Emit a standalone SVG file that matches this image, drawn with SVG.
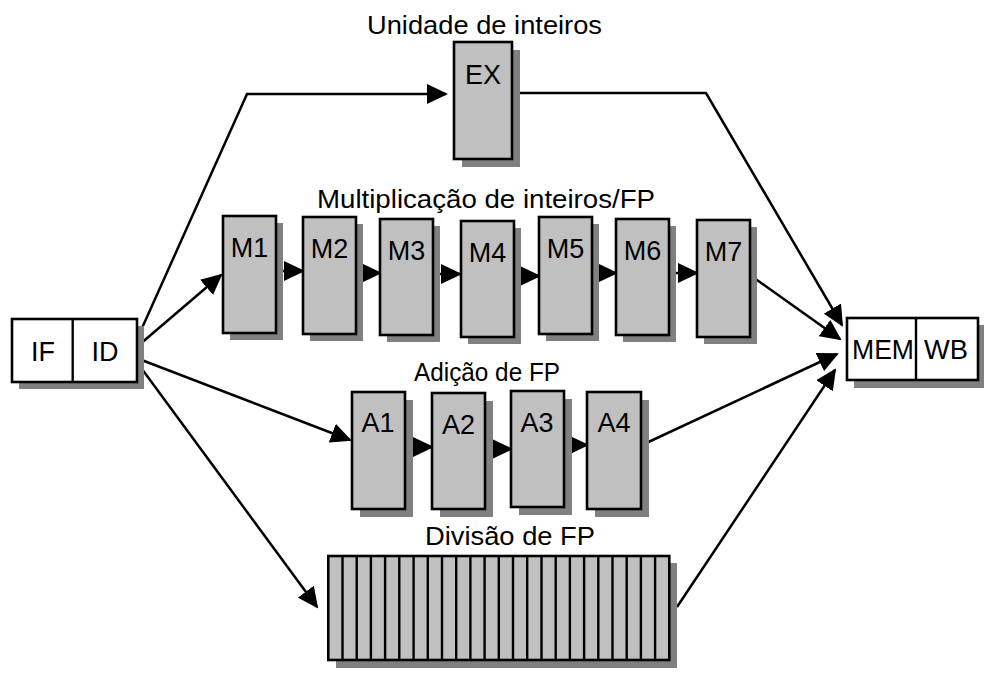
<svg xmlns="http://www.w3.org/2000/svg" width="984" height="675" viewBox="0 0 984 675">
<style>
.sh{fill:#808080}
.st{fill:#c0c0c0;stroke:#000;stroke-width:2.6}
.wb{fill:#fff;stroke:#000;stroke-width:2.6}
.lb{font-family:"Liberation Sans",Arial,sans-serif;font-size:27px;fill:#000;text-anchor:middle}
.tt{font-family:"Liberation Sans",Arial,sans-serif;font-size:26px;fill:#000}
.cn{fill:none;stroke:#000;stroke-width:2.5}
.dv{stroke:#000;stroke-width:2.4}
</style>
<defs>
<marker id="ah" markerUnits="userSpaceOnUse" markerWidth="21" markerHeight="20" refX="19" refY="10" orient="auto" viewBox="0 0 21 20">
<path d="M0,0 L21,10 L0,20 z" fill="#000"/>
</marker>
</defs>
<rect width="984" height="675" fill="#fff"/>

<text class="tt" x="367" y="34" textLength="235" lengthAdjust="spacingAndGlyphs">Unidade de inteiros</text>
<text class="tt" x="317" y="208" textLength="338" lengthAdjust="spacingAndGlyphs">Multiplicação de inteiros/FP</text>
<text class="tt" x="414" y="381" textLength="146" lengthAdjust="spacingAndGlyphs">Adição de FP</text>
<text class="tt" x="425" y="545" textLength="170" lengthAdjust="spacingAndGlyphs">Divisão de FP</text>

<g id="connectors">
<polyline class="cn" points="138,337 247,94 446,94" marker-end="url(#ah)"/>
<polyline class="cn" points="512,93 706,93 842,325" marker-end="url(#ah)"/>
<line class="cn" x1="139" y1="345" x2="221" y2="275" marker-end="url(#ah)"/>
<line class="cn" x1="139" y1="359" x2="350" y2="440" marker-end="url(#ah)"/>
<line class="cn" x1="139" y1="365" x2="317" y2="607" marker-end="url(#ah)"/>
<line class="cn" x1="276" y1="271" x2="303" y2="271" marker-end="url(#ah)"/>
<line class="cn" x1="356" y1="273" x2="380" y2="273" marker-end="url(#ah)"/>
<line class="cn" x1="433" y1="274" x2="460" y2="274" marker-end="url(#ah)"/>
<line class="cn" x1="514" y1="276" x2="539" y2="276" marker-end="url(#ah)"/>
<line class="cn" x1="592" y1="273" x2="616" y2="273" marker-end="url(#ah)"/>
<line class="cn" x1="669" y1="273" x2="697" y2="273" marker-end="url(#ah)"/>
<line class="cn" x1="750" y1="275" x2="840" y2="339" marker-end="url(#ah)"/>
<line class="cn" x1="404" y1="447" x2="432" y2="447" marker-end="url(#ah)"/>
<line class="cn" x1="485" y1="449" x2="511" y2="449" marker-end="url(#ah)"/>
<line class="cn" x1="563" y1="445" x2="587" y2="445" marker-end="url(#ah)"/>
<line class="cn" x1="642" y1="445" x2="837" y2="354" marker-end="url(#ah)"/>
<line class="cn" x1="677" y1="607" x2="835" y2="370" marker-end="url(#ah)"/>
</g>

<g id="IF_ID">
<rect class="sh" x="19" y="326" width="125" height="63"/>
<rect class="wb" x="12" y="319" width="125" height="63"/>
<line class="dv" x1="72.7" y1="319" x2="72.7" y2="382"/>
<text class="lb" x="43" y="361">IF</text>
<text class="lb" x="105" y="361">ID</text>
</g>

<g id="EX">
<rect class="sh" x="462" y="50" width="58" height="117"/>
<rect class="st" x="454" y="42" width="58" height="117"/>
<text class="lb" x="483" y="84">EX</text>
</g>

<g id="M1"><rect class="sh" x="230" y="223" width="53" height="117"/><rect class="st" x="223" y="216" width="53" height="117"/><text class="lb" x="249.5" y="257">M1</text></g>
<g id="M2"><rect class="sh" x="310" y="224" width="53" height="117"/><rect class="st" x="303" y="217" width="53" height="117"/><text class="lb" x="329.5" y="258">M2</text></g>
<g id="M3"><rect class="sh" x="387" y="226" width="53" height="116"/><rect class="st" x="380" y="219" width="53" height="116"/><text class="lb" x="406.5" y="260">M3</text></g>
<g id="M4"><rect class="sh" x="468" y="228" width="53" height="116"/><rect class="st" x="461" y="221" width="53" height="116"/><text class="lb" x="487.5" y="262">M4</text></g>
<g id="M5"><rect class="sh" x="546" y="224" width="53" height="117"/><rect class="st" x="539" y="217" width="53" height="117"/><text class="lb" x="565.5" y="258">M5</text></g>
<g id="M6"><rect class="sh" x="623" y="226" width="53" height="116"/><rect class="st" x="616" y="219" width="53" height="116"/><text class="lb" x="642.5" y="260">M6</text></g>
<g id="M7"><rect class="sh" x="704" y="227" width="53" height="117"/><rect class="st" x="697" y="220" width="53" height="117"/><text class="lb" x="723.5" y="261">M7</text></g>

<g id="A1"><rect class="sh" x="360" y="400" width="53" height="117"/><rect class="st" x="352" y="392" width="53" height="117"/><text class="lb" x="378" y="432">A1</text></g>
<g id="A2"><rect class="sh" x="440" y="401" width="53" height="116"/><rect class="st" x="432" y="393" width="53" height="116"/><text class="lb" x="458.5" y="434">A2</text></g>
<g id="A3"><rect class="sh" x="519" y="399" width="53" height="116"/><rect class="st" x="511" y="391" width="53" height="116"/><text class="lb" x="537" y="432">A3</text></g>
<g id="A4"><rect class="sh" x="595" y="400" width="54" height="117"/><rect class="st" x="587" y="392" width="54" height="117"/><text class="lb" x="614" y="432">A4</text></g>

<g id="Div">
<rect class="sh" x="336" y="563" width="341" height="105"/>
<rect class="st" x="328.3" y="556" width="341" height="104"/>
<path class="dv" d="M342.5,556V660M356.7,556V660M370.9,556V660M385.1,556V660M399.3,556V660M413.6,556V660M427.8,556V660M442,556V660M456.2,556V660M470.4,556V660M484.6,556V660M498.8,556V660M513,556V660M527.2,556V660M541.5,556V660M555.7,556V660M569.9,556V660M584.1,556V660M598.3,556V660M612.5,556V660M626.7,556V660M640.9,556V660M655.1,556V660"/>
</g>

<g id="MEM_WB">
<rect class="sh" x="854" y="325" width="132" height="63"/>
<rect class="wb" x="847" y="318" width="131" height="62"/>
<line class="dv" x1="916" y1="318" x2="916" y2="380"/>
<text class="lb" x="883" y="359" textLength="62" lengthAdjust="spacingAndGlyphs">MEM</text>
<text class="lb" x="946" y="359" textLength="44" lengthAdjust="spacingAndGlyphs">WB</text>
</g>
</svg>
